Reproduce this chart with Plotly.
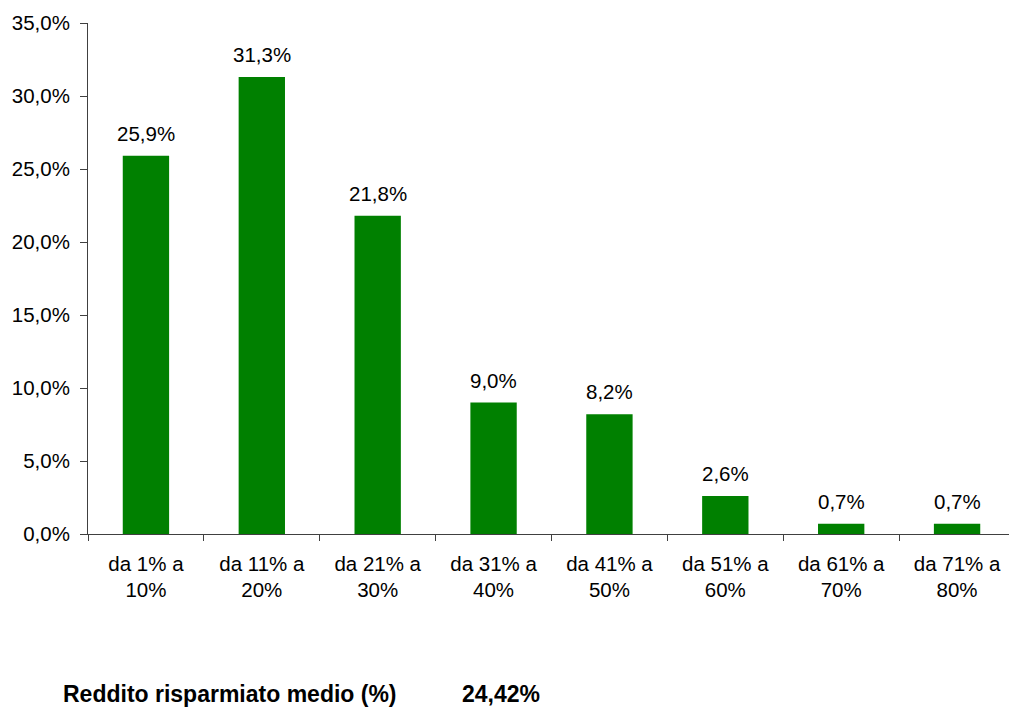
import plotly.graph_objects as go

categories = ["da 1% a<br>10%", "da 11% a<br>20%", "da 21% a<br>30%", "da 31% a<br>40%",
              "da 41% a<br>50%", "da 51% a<br>60%", "da 61% a<br>70%", "da 71% a<br>80%"]
values = [25.9, 31.3, 21.8, 9.0, 8.2, 2.6, 0.7, 0.7]
value_labels = ["25,9%", "31,3%", "21,8%", "9,0%", "8,2%", "2,6%", "0,7%", "0,7%"]
y_tickvals = [0, 5, 10, 15, 20, 25, 30, 35]
y_ticktext = ["0,0%", "5,0%", "10,0%", "15,0%", "20,0%", "25,0%", "30,0%", "35,0%"]
summary_label = "Reddito risparmiato medio (%)"
summary_value = "24,42%"

FONT = "Liberation Sans, Arial, sans-serif"
AXIS_COLOR = "#404040"
FS = 20.5

fig = go.Figure()
fig.add_trace(go.Bar(x=categories, y=values, marker=dict(color="#008000", line=dict(width=0)),
                     width=0.4, hoverinfo="skip"))

for c, v, t in zip(categories, values, value_labels):
    fig.add_annotation(x=c, y=v, text=t, showarrow=False, xref="x", yref="y",
                       yanchor="bottom", yshift=9, font=dict(size=FS, color="black", family=FONT))

fig.add_annotation(x=-0.029, y=-0.313, xref="paper", yref="paper", text="<b>" + summary_label + "</b>",
                   showarrow=False, xanchor="left", yanchor="middle",
                   font=dict(size=23, color="black", family=FONT))
fig.add_annotation(x=0.401, y=-0.313, xref="paper", yref="paper", text="<b>" + summary_value + "</b>",
                   showarrow=False, xanchor="left", yanchor="middle",
                   font=dict(size=23, color="black", family=FONT))

fig.update_layout(
    width=1009, height=700,
    margin=dict(l=80, r=2, t=15, b=174),
    paper_bgcolor="white", plot_bgcolor="white",
    font=dict(family=FONT, size=FS, color="black"),
    showlegend=False,
    xaxis=dict(type="category", showline=True, linecolor=AXIS_COLOR, linewidth=1,
               ticks="outside", tickson="boundaries", ticklen=6, tickcolor=AXIS_COLOR,
               ticklabelstandoff=11,
               showgrid=False, tickfont=dict(size=FS, family=FONT, color="black")),
    yaxis=dict(range=[0, 35], showline=True, linecolor=AXIS_COLOR, linewidth=1,
               ticks="outside", ticklen=7, tickcolor=AXIS_COLOR, showgrid=False, zeroline=False,
               ticklabelstandoff=6,
               tickvals=y_tickvals, ticktext=y_ticktext,
               tickfont=dict(size=FS, family=FONT, color="black")),
)

fig.write_html("out.html")
